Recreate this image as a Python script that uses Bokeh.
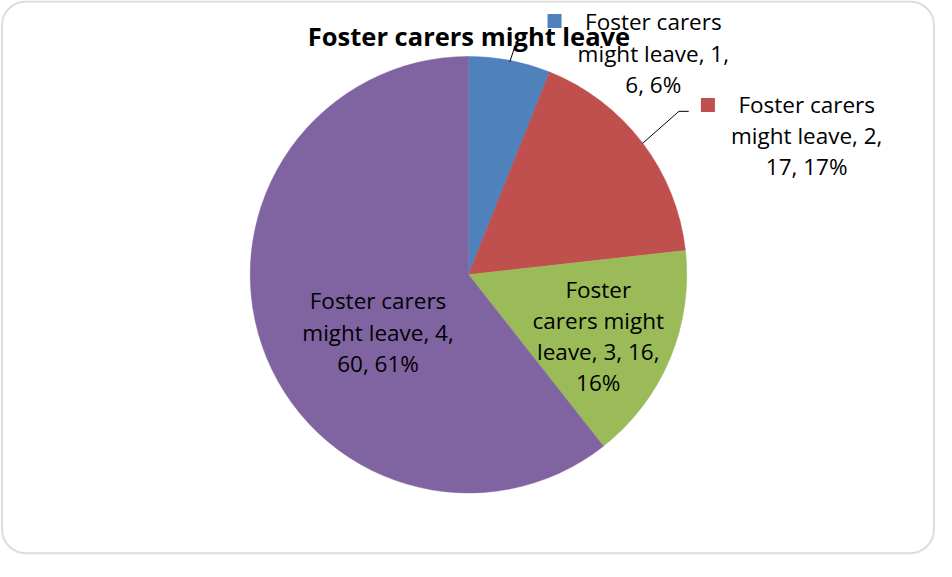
import math
from bokeh.plotting import figure
from bokeh.models import Range1d, BoxAnnotation, ColumnDataSource
from bokeh.core.properties import value
from bokeh.embed import file_html
from bokeh.resources import INLINE

# ---- data ----
title = "Foster carers might leave"
categories = [1, 2, 3, 4]
values = [6, 17, 16, 60]
colors = ["#4F81BD", "#C0504D", "#9BBB59", "#8064A2"]
# line breaks of each data label (as in the reference)
label_breaks = [
    ["Foster carers", "might leave, {c},", "{v}, {p}%"],
    ["Foster carers", "might leave, {c},", "{v}, {p}%"],
    ["Foster", "carers might", "leave, {c}, {v},", "{p}%"],
    ["Foster carers", "might leave, {c},", "{v}, {p}%"],
]

W, H = 936, 561
FONT = "Open Sans"
BASE_SHIFT = 9  # renderer places the alphabetic baseline a little low


def Y(ry):
    # reference pixel row -> data y
    return 577 - ry


p = figure(width=W, height=H, output_backend="svg", toolbar_location=None,
           x_range=Range1d(0, 952), y_range=Range1d(0, 577),
           min_border=0, background_fill_color="white",
           border_fill_color="white", outline_line_color=None)
p.axis.visible = False
p.grid.visible = False

# frame
p.add_layout(BoxAnnotation(left=1.5, right=949.5, top=Y(1), bottom=Y(568.5),
                           border_radius=24, fill_color=None,
                           line_color="#8A8A8A", line_width=2))

# pie
total = sum(values)
starts, ends = [], []
cum = 0
for v in values:
    starts.append(math.pi / 2 - 2 * math.pi * cum / total)
    cum += v
    ends.append(math.pi / 2 - 2 * math.pi * cum / total)
pcts = [round(v / total * 100) for v in values]

cx, cy, r = 476, Y(282), 222
src = ColumnDataSource(dict(start=starts, end=ends, color=colors))
p.wedge(x=cx, y=cy, radius=r, start_angle="start", end_angle="end",
        direction="clock", fill_color="color", line_color="color",
        line_width=0.5, source=src)

# title
p.text(x=[476.5], y=[Y(45 - BASE_SHIFT)], text=[title], text_font=value(FONT),
       text_font_style="bold", text_font_size="25.5px", text_align="center",
       text_baseline="alphabetic", text_color="black")

# data labels, one text per line
lab_x = [664, 820, 608, 384]
lab_first_baseline = [31, 116, 306, 318]
SPACING = 32
tx, ty, tt = [], [], []
for c, v, pc, br, lx, lb in zip(categories, values, pcts, label_breaks,
                                lab_x, lab_first_baseline):
    for i, s in enumerate(br):
        tx.append(lx)
        ty.append(Y(lb + i * SPACING - BASE_SHIFT))
        tt.append(s.format(c=c, v=v, p=pc))
p.text(x=tx, y=ty, text=tt, text_font=value(FONT),
       text_font_size="22.5px", text_align="center", text_baseline="alphabetic",
       text_color="black")

# legend-key squares beside outside labels
p.scatter(x=[563.5, 719.5], y=[Y(21), Y(107.5)], marker="square", size=14,
          fill_color=colors[:2], line_color=None)

# leader lines
p.line(x=[518, 524], y=[Y(63), Y(45)], line_color="black", line_width=1)
p.line(x=[653, 690, 700], y=[Y(147), Y(114), Y(114)], line_color="black",
       line_width=1)

open("out.html", "w").write(file_html(p, INLINE))
